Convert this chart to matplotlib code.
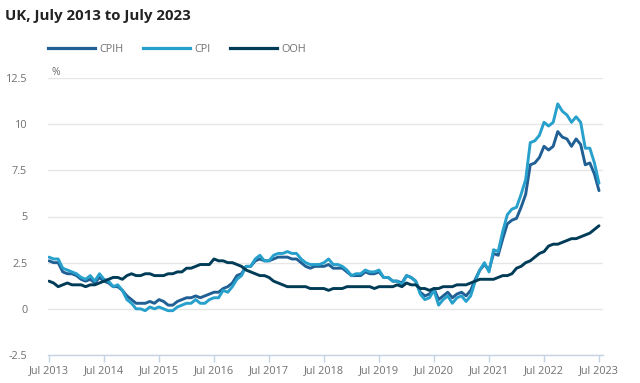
import matplotlib
matplotlib.use("Agg")
import matplotlib.pyplot as plt
from matplotlib.lines import Line2D

plt.rcParams['font.family'] = ['Open Sans', 'DejaVu Sans']

# Monthly annual rates, Jul 2013 .. Jul 2023
cpih = [2.6, 2.5, 2.5, 2.0, 1.9, 1.9,
        1.8, 1.6, 1.5, 1.6, 1.4, 1.7, 1.5, 1.4, 1.2, 1.2, 1.0, 0.7,
        0.5, 0.3, 0.3, 0.3, 0.4, 0.3, 0.5, 0.4, 0.2, 0.2, 0.4, 0.5,
        0.6, 0.6, 0.7, 0.6, 0.7, 0.8, 0.9, 0.9, 1.1, 1.2, 1.4, 1.8,
        1.9, 2.3, 2.3, 2.6, 2.7, 2.6, 2.6, 2.7, 2.8, 2.8, 2.8, 2.7,
        2.7, 2.5, 2.3, 2.2, 2.3, 2.3, 2.3, 2.4, 2.2, 2.2, 2.2, 2.0,
        1.8, 1.8, 1.8, 2.0, 1.9, 1.9, 2.0, 1.7, 1.7, 1.5, 1.5, 1.4,
        1.8, 1.7, 1.5, 0.9, 0.7, 0.8, 1.1, 0.5, 0.7, 0.9, 0.6, 0.8,
        0.9, 0.7, 1.0, 1.6, 2.1, 2.4, 2.1, 3.0, 2.9, 3.8, 4.6, 4.8,
        4.9, 5.5, 6.2, 7.8, 7.9, 8.2, 8.8, 8.6, 8.8, 9.6, 9.3, 9.2,
        8.8, 9.2, 8.9, 7.8, 7.9, 7.3, 6.4]

cpi = [2.8, 2.7, 2.7, 2.2, 2.1, 2.0,
       1.9, 1.7, 1.6, 1.8, 1.5, 1.9, 1.6, 1.5, 1.2, 1.3, 1.0, 0.5,
       0.3, 0.0, 0.0, -0.1, 0.1, 0.0, 0.1, 0.0, -0.1, -0.1, 0.1, 0.2,
       0.3, 0.3, 0.5, 0.3, 0.3, 0.5, 0.6, 0.6, 1.0, 0.9, 1.2, 1.6,
       1.8, 2.3, 2.3, 2.7, 2.9, 2.6, 2.6, 2.9, 3.0, 3.0, 3.1, 3.0,
       3.0, 2.7, 2.5, 2.4, 2.4, 2.4, 2.5, 2.7, 2.4, 2.4, 2.3, 2.1,
       1.8, 1.9, 1.9, 2.1, 2.0, 2.0, 2.1, 1.7, 1.7, 1.5, 1.5, 1.3,
       1.8, 1.7, 1.5, 0.8, 0.5, 0.6, 1.0, 0.2, 0.5, 0.7, 0.3, 0.6,
       0.7, 0.4, 0.7, 1.5, 2.1, 2.5, 2.0, 3.2, 3.1, 4.2, 5.1, 5.4,
       5.5, 6.2, 7.0, 9.0, 9.1, 9.4, 10.1, 9.9, 10.1, 11.1, 10.7, 10.5,
       10.1, 10.4, 10.1, 8.7, 8.7, 7.9, 6.8]

ooh = [1.5, 1.4, 1.2, 1.3, 1.4, 1.3,
       1.3, 1.3, 1.2, 1.3, 1.3, 1.4, 1.5, 1.6, 1.7, 1.7, 1.6, 1.8,
       1.9, 1.8, 1.8, 1.9, 1.9, 1.8, 1.8, 1.8, 1.9, 1.9, 2.0, 2.0,
       2.2, 2.2, 2.3, 2.4, 2.4, 2.4, 2.7, 2.6, 2.6, 2.5, 2.5, 2.4,
       2.3, 2.1, 2.0, 1.9, 1.8, 1.8, 1.7, 1.5, 1.4, 1.3, 1.2, 1.2,
       1.2, 1.2, 1.2, 1.1, 1.1, 1.1, 1.1, 1.0, 1.1, 1.1, 1.1, 1.2,
       1.2, 1.2, 1.2, 1.2, 1.2, 1.1, 1.2, 1.2, 1.2, 1.2, 1.3, 1.2,
       1.4, 1.3, 1.3, 1.1, 1.1, 1.0, 1.1, 1.1, 1.2, 1.2, 1.2, 1.3,
       1.3, 1.3, 1.4, 1.5, 1.6, 1.6, 1.6, 1.6, 1.7, 1.8, 1.8, 1.9,
       2.2, 2.3, 2.5, 2.6, 2.8, 3.0, 3.1, 3.4, 3.5, 3.5, 3.6, 3.7,
       3.8, 3.8, 3.9, 4.0, 4.1, 4.3, 4.5]

x_labels = ['Jul 2013', 'Jul 2014', 'Jul 2015', 'Jul 2016', 'Jul 2017', 'Jul 2018',
            'Jul 2019', 'Jul 2020', 'Jul 2021', 'Jul 2022', 'Jul 2023']
y_ticks = [-2.5, 0, 2.5, 5, 7.5, 10, 12.5]
y_labels = ['-2.5', '0', '2.5', '5', '7.5', '10', '12.5']

series = [('CPIH', cpih, '#206095'), ('CPI', cpi, '#27a0cc'), ('OOH', ooh, '#003c57')]

W, H = 640, 383
fig = plt.figure(figsize=(W / 100, H / 100), dpi=100, facecolor='white')
ax = fig.add_axes([48 / W, (H - 355) / H, 555 / W, 277 / H])

months = list(range(len(cpih)))
for name, vals, color in series:
    ax.plot(months, vals, color=color, lw=2.1, solid_joinstyle='round',
            solid_capstyle='round', label=name, zorder=3)

ax.set_xlim(-0.22, 120.87)
ax.set_ylim(-2.5, 12.5)
ax.set_yticks(y_ticks)
ax.set_yticklabels(y_labels)
ax.set_xticks(range(0, 121, 12))
ax.set_xticklabels(x_labels)

ax.grid(axis='y', color='#e6e6e6', lw=1, zorder=0)
for s in ['top', 'right', 'left']:
    ax.spines[s].set_visible(False)
ax.spines['bottom'].set_color('#c5d3e2')
ax.spines['bottom'].set_linewidth(1)
ax.tick_params(axis='x', colors='#c5d3e2', length=5, width=1, labelcolor='#707071',
               labelsize=7.8, pad=2)
ax.tick_params(axis='y', length=0, labelcolor='#707071', labelsize=7.8, pad=15)

ax.text(4 / 555, 1.0, '%', transform=ax.transAxes, fontsize=7.5, color='#707071',
        ha='left', va='bottom')

fig.text(5 / W, 1 - 16 / H, 'UK, July 2013 to July 2023', fontsize=10.8,
         fontweight='bold', color='#222222', ha='left', va='center')

handles = [Line2D([0], [0], color=c, lw=2.3) for _, _, c in series]
fig.legend(handles, [n for n, _, _ in series], loc='center left',
           bbox_to_anchor=(48 / W, 1 - 49 / H), ncol=3, frameon=False,
           borderpad=0, borderaxespad=0,
           handlelength=4.3, handletextpad=0.45, columnspacing=1.8,
           fontsize=7.8, labelcolor='#707071')

fig.savefig('out.png', dpi=100, facecolor='white')
